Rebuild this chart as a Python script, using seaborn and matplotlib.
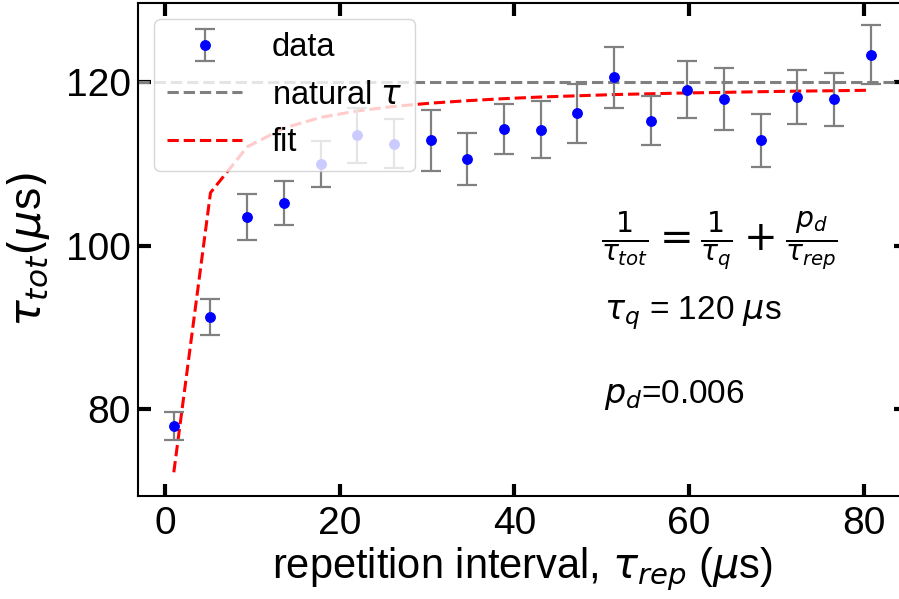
import numpy as np
import pandas as pd
import matplotlib
matplotlib.use("Agg")
import matplotlib.pyplot as plt
import seaborn as sns

# ---- data ----
tau_rep = [1.0, 5.2, 9.4, 13.6, 17.8, 22.0, 26.2, 30.4, 34.6, 38.8,
           43.0, 47.2, 51.4, 55.6, 59.8, 64.0, 68.2, 72.4, 76.6, 80.8]
tau_tot = [78.0, 91.3, 103.5, 105.2, 110.0, 113.5, 112.5, 112.9, 110.6, 114.3,
           114.2, 116.2, 120.6, 115.3, 119.1, 118.0, 112.9, 118.2, 117.9, 123.4]
tau_err = [1.7, 2.2, 2.8, 2.7, 2.85, 3.4, 3.0, 3.7, 3.2, 3.1,
           3.5, 3.6, 3.7, 3.0, 3.45, 3.8, 3.2, 3.3, 3.2, 3.55]
fit_vals = [72.3, 106.5, 112.1, 114.4, 115.7, 116.5, 117.05, 117.45, 117.75, 118.0,
            118.2, 118.35, 118.5, 118.6, 118.7, 118.77, 118.85, 118.92, 118.97, 119.03]
natural_tau = 120
x_ticks = [0, 20, 40, 60, 80]
y_ticks = [80, 100, 120]

sns.set_style("ticks")
plt.rcParams['font.family'] = ['Liberation Sans', 'DejaVu Sans']
plt.rcParams['mathtext.fontset'] = 'dejavusans'
for k in ['text.color', 'axes.labelcolor', 'xtick.color', 'ytick.color', 'axes.edgecolor']:
    plt.rcParams[k] = 'black'

fig = plt.figure(figsize=(8.99, 5.99), dpi=100)
ax = fig.add_axes([138/899, 103/599, (905.7-138)/899, 493/599])

df = pd.DataFrame({"tau_rep": tau_rep, "fit": fit_vals})

eb = ax.errorbar(tau_rep, tau_tot, yerr=tau_err, fmt='o', color='blue',
                 ecolor='gray', elinewidth=1.6, capsize=7, capthick=1.6,
                 markersize=6.8, label='data', zorder=3)
hl = ax.axhline(natural_tau, color='gray', linestyle='--', linewidth=2.2,
                label=r'natural $\tau$', zorder=2)
sns.lineplot(data=df, x="tau_rep", y="fit", ax=ax, color='red',
             linestyle='--', linewidth=2.2, label='fit', zorder=2)
fit_line = ax.lines[-1]

ax.set_xlim(-3.1, 84.8)
ax.set_ylim(69.4, 129.7)
ax.set_xticks(x_ticks)
ax.set_yticks(y_ticks)
ax.tick_params(direction='in', length=9, width=3, labelsize=28,
               top=True, right=True)
ax.tick_params(axis='y', pad=5)
ax.tick_params(axis='x', pad=7)
for s in ax.spines.values():
    s.set_linewidth(1.5)

ax.set_xlabel(r'repetition interval, $\tau_{rep}$ ($\mu$s)', fontsize=30, labelpad=3)
ax.set_ylabel(r'$\tau_{tot}(\mu$s$)$', fontsize=32, labelpad=10)

ax.annotate(r'$\frac{1}{\tau_{tot}} = \frac{1}{\tau_q} + \frac{p_d}{\tau_{rep}}$',
            xy=(601/899, 1-241/599), xycoords='figure fraction',
            fontsize=29, va='center', ha='left')
ax.annotate(r'$\tau_q$ = 120 $\mu$s', xy=(604/899, 1-313/599), xycoords='figure fraction',
            fontsize=24, va='center', ha='left')
ax.annotate(r'$p_d$=0.006', xy=(604/899, 1-395/599), xycoords='figure fraction',
            fontsize=24, va='center', ha='left')

leg = ax.legend(handles=[eb, hl, fit_line], labels=['data', r'natural $\tau$', 'fit'],
                loc='upper left', fontsize=23.5, framealpha=0.8, handlelength=2.3,
                borderaxespad=0.5, labelspacing=0.5, handletextpad=0.9)
leg.set_zorder(5)

fig.savefig('out.png', dpi=100)
